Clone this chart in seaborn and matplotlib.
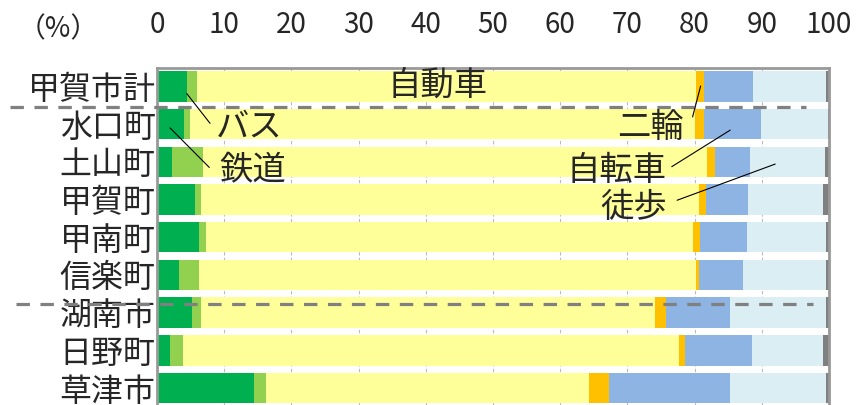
import matplotlib
matplotlib.use("Agg")
import matplotlib.pyplot as plt
import seaborn as sns
import numpy as np
import pandas as pd

# areas (top to bottom)
areas = ["甲賀市計", "水口町", "土山町", "甲賀町", "甲南町", "信楽町", "湖南市", "日野町", "草津市"]

# share of each travel mode (%)
rail = [4.4, 4.0, 2.2, 5.6, 6.3, 3.2, 5.2, 1.9, 14.4]
bus = [1.5, 0.9, 4.6, 0.9, 1.0, 3.0, 1.4, 2.0, 1.8]
car = [74.3, 75.2, 75.0, 74.2, 72.5, 74.0, 67.5, 73.8, 48.1]
twowheel = [1.2, 1.3, 1.2, 1.0, 1.0, 0.4, 1.6, 0.9, 3.0]
bicycle = [7.3, 8.5, 5.3, 6.2, 7.0, 6.6, 9.6, 10.0, 18.0]
walk = [10.9, 9.9, 11.15, 11.2, 11.8, 12.4, 14.3, 10.5, 14.3]
other = [0.4, 0.2, 0.55, 0.9, 0.4, 0.4, 0.4, 0.9, 0.4]

xticks = [0, 10, 20, 30, 40, 50, 60, 70, 80, 90, 100]

modes = ["鉄道", "バス", "自動車", "二輪", "自転車", "徒歩", "その他"]
colors = ["#00B050", "#92D050", "#FFFF99", "#FFC000", "#8EB4E3", "#DAEEF3", "#808080"]

df = pd.DataFrame({"鉄道": rail, "バス": bus, "自動車": car, "二輪": twowheel,
                   "自転車": bicycle, "徒歩": walk, "その他": other}, index=areas)
cum = df[modes].cumsum(axis=1)

sns.set_style("white")
plt.rcParams["font.family"] = ["Noto Sans CJK JP", "DejaVu Sans"]

fig = plt.figure(figsize=(8.58, 4.05), dpi=100)
ax = fig.add_axes([0.183, 0.0, 0.7832, 0.832])

# stacked bars: draw cumulative totals from the longest to the shortest
for mode, col in reversed(list(zip(modes, colors))):
    sns.barplot(x=cum[mode].values, y=areas, color=col, saturation=1,
                width=0.81, orient="h", linewidth=0, ax=ax, zorder=2)

ax.set_xlim(0, 100)
ax.set_ylim(8.45, -0.486)
ax.set_xticks(xticks)
ax.xaxis.tick_top()
ax.tick_params(axis="x", length=0, pad=20, labelsize=20)
ax.tick_params(axis="y", length=0, pad=1, labelsize=23)
ax.set_xlabel("")
ax.set_ylabel("")

ax.grid(axis="x", color="#BBBBBB", linestyle=(0, (3, 2)), linewidth=0.8, zorder=0)
ax.set_axisbelow(True)
for side in ["top", "left", "right"]:
    ax.spines[side].set_color("#999999")
    ax.spines[side].set_linewidth(2)
ax.spines["bottom"].set_visible(False)

fig.text(58 / 858, 1 - 29 / 405, "（%）", fontsize=20, ha="center", va="center")

# group separators
ax.plot([-21.9, 96.6], [0.54, 0.54], color="#808080", lw=2.3,
        linestyle=(0, (4.2, 3.3)), clip_on=False, zorder=5)
ax.plot([-21.0, 97.6], [5.77, 5.77], color="#808080", lw=2.3,
        linestyle=(0, (4.2, 3.3)), clip_on=False, zorder=5)

# mode labels with leader lines
ax.text(41.8, -0.04, "自動車", fontsize=24, ha="center", va="center", zorder=6)
labels = [
    ("バス", 13.7, 1.08, (4.42, 0.19), (7.89, 0.98)),
    ("鉄道", 14.3, 2.22, (1.93, 1.10), (7.78, 2.15)),
    ("二輪", 73.5, 1.08, (80.9, -0.01), (79.7, 0.81)),
    ("自転車", 68.4, 2.22, (85.3, 1.16), (76.6, 2.13)),
    ("徒歩", 71.0, 3.2, (92.0, 2.06), (77.4, 3.02)),
]
for txt, tx, ty, p0, p1 in labels:
    ax.text(tx, ty, txt, fontsize=24, ha="center", va="center", zorder=6)
    ax.plot([p0[0], p1[0]], [p0[1], p1[1]], color="black", lw=0.8, zorder=6)

fig.savefig("out.png", dpi=100)
